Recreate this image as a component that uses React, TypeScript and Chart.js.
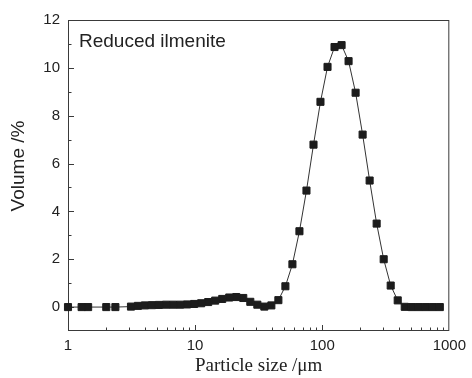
import React, { useEffect, useRef } from "react";
import { Chart, registerables } from "chart.js";

Chart.register(...registerables);

// Particle size (µm) and volume (%)
const sizes: number[] = [
  1.0, 1.28, 1.44, 2.0, 2.36,
  3.13, 3.55, 4.03, 4.58, 5.2, 5.91, 6.71, 7.62, 8.65, 9.83,
  11.16, 12.67, 14.39, 16.34, 18.56, 21.08, 23.93, 27.18, 30.87, 35.05,
  39.8, 45.2, 51.33, 58.3, 66.2, 75.2, 85.4, 96.9, 110.1, 125.0,
  142.0, 161.2, 183.1, 207.9, 236.1, 268.1, 304.5, 345.8, 392.7, 445.9,
  506.4, 575.1, 653.0, 741.6, 842.2,
];
const volumes: number[] = [
  0, 0, 0, 0, 0,
  0.02, 0.05, 0.07, 0.08, 0.09, 0.1, 0.1, 0.1, 0.11, 0.13,
  0.16, 0.21, 0.27, 0.34, 0.4, 0.42, 0.38, 0.22, 0.1, 0.02,
  0.07, 0.29, 0.87, 1.79, 3.17, 4.87, 6.79, 8.58, 10.04, 10.87,
  10.95, 10.28, 8.96, 7.21, 5.29, 3.49, 2.0, 0.9, 0.28, 0.01,
  0, 0, 0, 0, 0,
];
const xTickValues: number[] = [1, 10, 100, 1000];
const yTickValues: number[] = [0, 2, 4, 6, 8, 10, 12];
const yMinorValues: number[] = [1, 3, 5, 7, 9, 11];
const xTitle = "Particle size /μm";
const yTitle = "Volume /%";
const annotation = "Reduced ilmenite";

const SANS = "'Liberation Sans', Arial, sans-serif";
const SERIF = "'Liberation Serif', 'Times New Roman', serif";

const framePlugin = {
  id: "frame",
  beforeDatasetsDraw(chart: any) {
    const { ctx, chartArea } = chart;
    const { left, right, top, bottom } = chartArea;
    const xs = chart.scales.x;
    const ys = chart.scales.y;
    ctx.save();
    ctx.strokeStyle = "#3a3a3a";
    ctx.lineWidth = 1;
    ctx.strokeRect(left + 0.5, top + 0.5, right - left - 1, bottom - top - 1);
    ctx.beginPath();
    // y ticks (inward)
    for (const v of yTickValues) {
      const y = Math.round(ys.getPixelForValue(v)) + 0.5;
      ctx.moveTo(left, y);
      ctx.lineTo(left + 6, y);
    }
    for (const v of yMinorValues) {
      const y = Math.round(ys.getPixelForValue(v)) + 0.5;
      ctx.moveTo(left, y);
      ctx.lineTo(left + 3.5, y);
    }
    // x ticks (inward)
    for (const d of [1, 10, 100]) {
      for (let m = 1; m <= 9; m++) {
        const v = d * m;
        const x = Math.round(xs.getPixelForValue(v)) + 0.5;
        const len = m === 1 ? 6 : 3.5;
        ctx.moveTo(x, bottom);
        ctx.lineTo(x, bottom - len);
      }
    }
    ctx.stroke();
    ctx.restore();
  },
  afterDraw(chart: any) {
    const { ctx, chartArea } = chart;
    ctx.save();
    ctx.fillStyle = "#222";
    // x title
    ctx.font = `19px ${SERIF}`;
    ctx.textAlign = "center";
    ctx.textBaseline = "middle";
    ctx.fillText(xTitle, (chartArea.left + chartArea.right) / 2, 366);
    // y title
    ctx.save();
    ctx.translate(19, 166);
    ctx.rotate(-Math.PI / 2);
    ctx.font = `19px ${SANS}`;
    ctx.fillText(yTitle, 0, 0);
    ctx.restore();
    // annotation
    ctx.font = `19px ${SANS}`;
    ctx.textAlign = "left";
    ctx.textBaseline = "alphabetic";
    ctx.fillText(annotation, 79, 47);
    ctx.restore();
  },
};

export default function App() {
  const ref = useRef<HTMLCanvasElement | null>(null);
  useEffect(() => {
    if (!ref.current) return;
    const chart = new Chart(ref.current, {
      type: "line",
      data: {
        datasets: [
          {
            data: sizes.map((s, i) => ({ x: s, y: volumes[i] })),
            borderColor: "#333",
            borderWidth: 1,
            pointStyle: "rect",
            pointRadius: 5,
            pointBorderWidth: 1,
            pointBackgroundColor: "#1c1c1c",
            pointBorderColor: "#1c1c1c",
            tension: 0,
            clip: false as any,
          },
        ],
      },
      options: {
        animation: false,
        responsive: false,
        devicePixelRatio: 1,
        layout: { padding: { top: 20, right: 18, left: 0, bottom: 0 } },
        plugins: { legend: { display: false }, tooltip: { enabled: false } },
        scales: {
          x: {
            type: "logarithmic",
            min: 1,
            max: 1000,
            grid: { display: false, drawTicks: false },
            border: { display: false },
            afterBuildTicks: (s: any) => {
              s.ticks = xTickValues.map((v) => ({ value: v }));
            },
            afterFit: (s: any) => {
              s.height = 47;
            },
            ticks: {
              padding: 6,
              autoSkip: false,
              maxRotation: 0,
              color: "#222",
              font: { family: SANS, size: 15 },
              callback: (v: any) => String(v),
            },
          },
          y: {
            type: "linear",
            min: -1,
            max: 12,
            grid: { display: false, drawTicks: false },
            border: { display: false },
            afterBuildTicks: (s: any) => {
              s.ticks = yTickValues.map((v) => ({ value: v }));
            },
            afterFit: (s: any) => {
              s.width = 68;
            },
            ticks: {
              padding: 8,
              color: "#222",
              font: { family: SANS, size: 15 },
              callback: (v: any) => String(v),
            },
          },
        },
      },
      plugins: [framePlugin],
    });
    return () => chart.destroy();
  }, []);
  return (
    <div style={{ position: "absolute", left: 0, top: 0, width: 472, height: 378, background: "#fff" }}>
      <canvas ref={ref} width={472} height={378} style={{ display: "block" }} />
    </div>
  );
}
